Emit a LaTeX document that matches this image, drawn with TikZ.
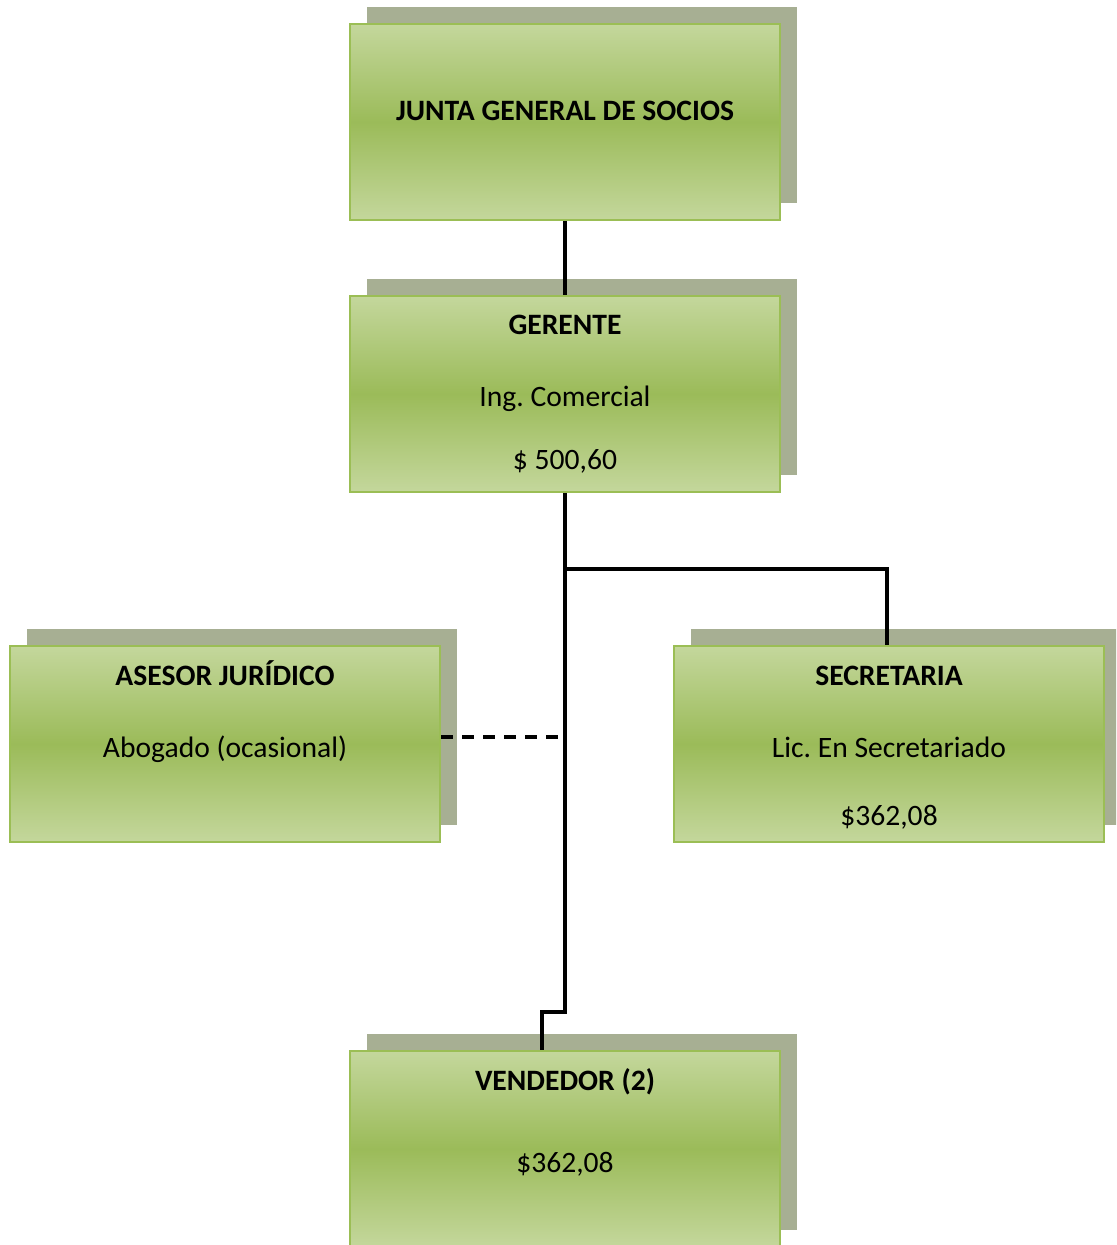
\documentclass[tikz,border=0pt]{standalone}
\usepackage{fontspec}
\setmainfont{Carlito}
\usepackage{tikz}
\frenchspacing

\definecolor{boxlight}{RGB}{196,215,156}
\definecolor{boxdark}{RGB}{155,187,89}
\definecolor{boxline}{RGB}{155,190,85}
\definecolor{boxshadow}{RGB}{167,175,147}

\tikzset{
    cargo/.style={rectangle, draw=boxline, line width=1.4pt,
        minimum width=215pt, minimum height=98pt, inner sep=0pt,
        top color=boxlight, bottom color=boxlight, middle color=boxdark,
        preaction={fill=boxshadow, draw=none, transform canvas={xshift=8.5pt,yshift=8.5pt}}},
    titulo/.style={font=\fontsize{14.8}{17}\selectfont\bfseries, text height=12pt, text depth=2pt},
    texto/.style={font=\fontsize{14.8}{17}\selectfont, text height=12pt, text depth=2pt},
    conn/.style={line width=1.8pt}
}

\begin{document}
\begin{tikzpicture}[x=0.5pt,y=-0.5pt]
        \clip (0,0) rectangle (1116,1245);

        % --- CAJAS ---
        \node[cargo] (junta) at (565,122) {};
        \node[cargo] (gerente) at (565,394) {};
        \node[cargo] (asesor) at (225,744) {};
        \node[cargo] (secretaria) at (889,744) {};
        \node[cargo] (vendedor) at (565,1149) {};

        % --- TEXTOS ---
        \node[titulo] (juntaT) at (565,111) {JUNTA GENERAL DE SOCIOS};

        \node[titulo] (gerenteT) at (565,325) {GERENTE};
        \node[texto] (gerenteP) at (565,397) {Ing. Comercial};
        \node[texto] (gerenteS) at (565,459) {\$ 500,60};

        \node[titulo] (asesorT) at (225,675) {ASESOR JURÍDICO};
        \node[texto] (asesorP) at (225,747) {Abogado (ocasional)};

        \node[titulo] (secretariaT) at (889,675) {SECRETARIA};
        \node[texto] (secretariaP) at (889,747) {Lic. En Secretariado};
        \node[texto] (secretariaS) at (889,815) {\$362,08};

        \node[titulo] (vendedorT) at (565,1080) {VENDEDOR (2)};
        \node[texto] (vendedorS) at (565,1162) {\$362,08};

        % --- LINEAS ---
        \coordinate (rama) at (565,569);
        \coordinate (quiebre) at (565,1012);

        \draw[conn] (junta) -- (gerente);
        \draw[conn] (gerente.south) -- (quiebre) -| ([xshift=-11.5pt]vendedor.north);
        \draw[conn] (rama) -| ([xshift=-1pt]secretaria.north);
        \draw[conn, dash pattern=on 6pt off 4.5pt] ([yshift=3.5pt]asesor.east) -- ([yshift=3.5pt]asesor.east -| rama);
\end{tikzpicture}
\end{document}
